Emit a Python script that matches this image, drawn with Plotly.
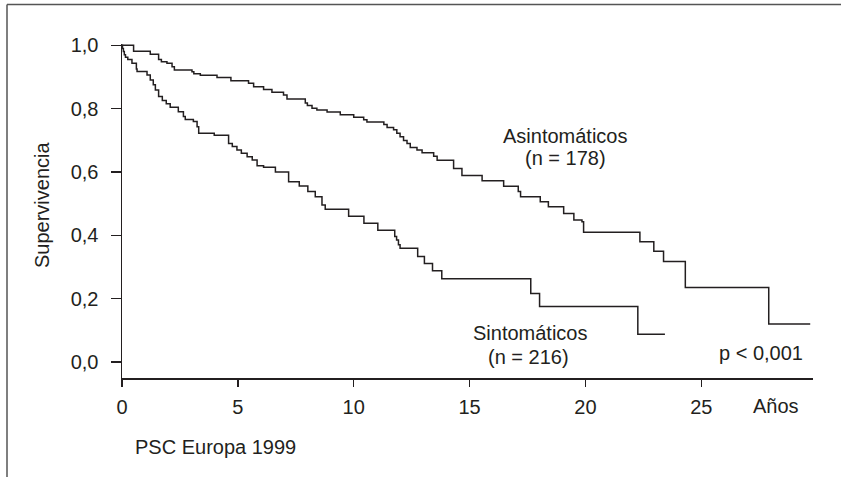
import plotly.graph_objects as go

# ---- data ----
asint_x = [0, 0.5, 1.22, 1.58, 1.7, 1.94, 2.16, 2.26, 3.02, 3.1, 3.38, 4.1, 4.7, 5.46, 5.68,
           6.11, 6.47, 6.97, 7.12, 7.91, 8.0, 8.2, 8.41, 8.85, 9.42, 10.0, 10.43, 10.57, 11.3,
           11.44, 11.72, 11.86, 12.0, 12.15, 12.3, 12.44, 12.73, 12.95, 13.45, 13.6, 14.31,
           14.67, 15.54, 16.47, 17.1, 17.2, 18.05, 18.4, 19.06, 19.5, 19.85, 19.92, 22.35,
           22.95, 23.37, 24.31, 27.91, 29.7]
asint_y = [1.0, 0.981, 0.972, 0.955, 0.948, 0.943, 0.932, 0.922, 0.916, 0.91, 0.905, 0.898,
           0.888, 0.88, 0.869, 0.86, 0.852, 0.843, 0.83, 0.818, 0.81, 0.801, 0.796, 0.789,
           0.781, 0.773, 0.765, 0.758, 0.75, 0.74, 0.733, 0.722, 0.711, 0.699, 0.69, 0.677,
           0.669, 0.661, 0.65, 0.637, 0.611, 0.589, 0.572, 0.555, 0.538, 0.522, 0.506, 0.49,
           0.469, 0.448, 0.443, 0.41, 0.38, 0.35, 0.317, 0.235, 0.12, 0.12]

sint_x = [0, 0.02, 0.06, 0.1, 0.15, 0.25, 0.43, 0.62, 0.65, 1.08, 1.22, 1.35, 1.44, 1.58,
          1.74, 1.91, 2.08, 2.43, 2.65, 2.73, 3.08, 3.24, 3.31, 3.98, 4.6, 4.76, 4.96, 5.15,
          5.4, 5.62, 5.83, 6.11, 6.62, 7.19, 7.65, 8.02, 8.34, 8.63, 8.77, 9.78, 10.44, 11.04,
          11.77, 11.85, 11.93, 12.0, 12.76, 13.05, 13.4, 13.8, 17.64, 18.02, 22.26, 23.43]
sint_y = [1.0, 0.99, 0.98, 0.97, 0.962, 0.955, 0.943, 0.925, 0.917, 0.906, 0.89, 0.875,
          0.859, 0.838, 0.826, 0.815, 0.804, 0.79, 0.775, 0.766, 0.759, 0.743, 0.722, 0.716,
          0.69, 0.68, 0.669, 0.659, 0.648, 0.638, 0.62, 0.615, 0.6, 0.569, 0.556, 0.538,
          0.522, 0.496, 0.482, 0.46, 0.438, 0.416, 0.396, 0.385, 0.37, 0.359, 0.333, 0.311,
          0.288, 0.263, 0.216, 0.175, 0.088, 0.088]

y_ticks = [0.0, 0.2, 0.4, 0.6, 0.8, 1.0]
x_ticks = [0, 5, 10, 15, 20, 25]

# ---- layout geometry ----
W, H = 841, 477
L, R, T, B = 122, 28, 44, 99
PW, PH = W - L - R, H - T - B

def px(x):
    return (x - L) / PW

def py(y):
    return (H - B - y) / PH

INK = "#231f20"
FONT = "Liberation Sans, Arial, Helvetica, sans-serif"
FS = 20

fig = go.Figure()
fig.add_trace(go.Scatter(x=asint_x, y=asint_y, mode="lines", line_shape="hv",
                         line=dict(color=INK, width=1.5), hoverinfo="skip", showlegend=False))
fig.add_trace(go.Scatter(x=sint_x, y=sint_y, mode="lines", line_shape="hv",
                         line=dict(color=INK, width=1.5), hoverinfo="skip", showlegend=False))

ann = dict(xref="paper", yref="paper", showarrow=False, xanchor="center", yanchor="middle",
           font=dict(family=FONT, size=FS, color=INK))
annotations = [
    dict(ann, x=px(565), y=py(136), text="Asintomáticos"),
    dict(ann, x=px(565), y=py(158), text="(n = 178)"),
    dict(ann, x=px(530), y=py(333), text="Sintomáticos"),
    dict(ann, x=px(528), y=py(357), text="(n = 216)"),
    dict(ann, x=px(761), y=py(353), text="p &lt; 0,001"),
    dict(ann, x=px(776), y=py(406), text="Años"),
    dict(ann, x=px(215), y=py(447), text="PSC Europa 1999"),
    dict(ann, x=px(42), y=py(205), text="Supervivencia", textangle=-90),
]

shapes = [
    dict(type="line", xref="paper", yref="paper", x0=px(7), x1=px(7), y0=py(4.5), y1=py(480),
         line=dict(color="#555555", width=1.5)),
    dict(type="line", xref="paper", yref="paper", x0=px(7), x1=px(845), y0=py(4.5), y1=py(4.5),
         line=dict(color="#555555", width=1.5)),
]

fig.update_layout(
    width=W, height=H,
    margin=dict(l=L, r=R, t=T, b=B, pad=0),
    paper_bgcolor="white", plot_bgcolor="white",
    separators=",.",
    font=dict(family=FONT, size=FS, color=INK),
    annotations=annotations,
    shapes=shapes,
    xaxis=dict(range=[0, 29.82], tickvals=x_ticks, ticks="outside", ticklen=7, tickwidth=1.5,
               tickcolor=INK, showline=True, linecolor=INK, linewidth=1.5, showgrid=False,
               zeroline=False, ticklabelstandoff=3, tickfont=dict(size=FS)),
    yaxis=dict(range=[-0.0505, 1.004], tickvals=y_ticks, tickformat=".1f", ticks="outside",
               ticklen=10, tickwidth=1.5, tickcolor=INK, showline=True, linecolor=INK,
               linewidth=1.5, showgrid=False, zeroline=False, ticklabelstandoff=8,
               tickfont=dict(size=FS)),
)

fig.write_html(
    "out.html",
    config={"displayModeBar": False, "staticPlot": True},
    post_script=("document.body.style.margin='0';document.body.style.overflow='hidden';"
                 "document.documentElement.style.overflow='hidden';"),
)
